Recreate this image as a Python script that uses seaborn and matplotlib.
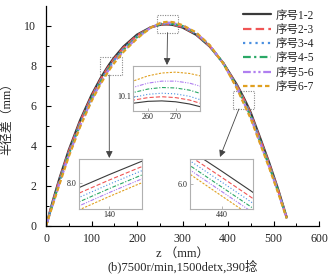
import numpy as np
import pandas as pd
import matplotlib
matplotlib.use("Agg")
import matplotlib.pyplot as plt
import seaborn as sns
from matplotlib.patches import Rectangle

# ---------------- data ----------------
z = [0, 15, 30, 50, 75, 100, 120, 135, 140, 145, 150, 170, 200, 230, 250, 255, 260, 265,
     270, 275, 280, 300, 330, 360, 390, 420, 435, 440, 445, 450, 470, 490, 510, 529]

s12 = [0.000, 1.261, 2.414, 3.796, 5.290, 6.547, 7.395, 7.946, 8.114, 8.274, 8.427, 8.967,
       9.568, 9.935, 10.053, 10.067, 10.075, 10.077, 10.073, 10.063, 10.047, 9.924, 9.560,
       8.970, 8.140, 7.049, 6.399, 6.164, 5.922, 5.671, 4.450, 3.200, 1.850, 0.430]
s23 = [0.000, 1.211, 2.339, 3.714, 5.208, 6.470, 7.321, 7.874, 8.043, 8.204, 8.357, 8.900,
       9.518, 9.930, 10.062, 10.081, 10.092, 10.096, 10.092, 10.081, 10.062, 9.954, 9.590,
       8.988, 8.133, 7.002, 6.324, 6.087, 5.845, 5.594, 4.375, 3.135, 1.805, 0.418]
s34 = [0.000, 1.173, 2.282, 3.651, 5.145, 6.411, 7.265, 7.818, 7.989, 8.151, 8.304, 8.848,
       9.480, 9.926, 10.074, 10.094, 10.107, 10.112, 10.109, 10.098, 10.078, 9.977, 9.613,
       9.001, 8.127, 6.965, 6.267, 6.028, 5.786, 5.535, 4.318, 3.086, 1.771, 0.408]
s45 = [0.000, 1.133, 2.222, 3.585, 5.079, 6.349, 7.206, 7.760, 7.932, 8.095, 8.248, 8.794,
       9.440, 9.922, 10.092, 10.116, 10.131, 10.138, 10.136, 10.126, 10.107, 10.001, 9.637,
       9.015, 8.121, 6.927, 6.207, 5.966, 5.724, 5.473, 4.258, 3.034, 1.735, 0.398]
s56 = [0.000, 1.097, 2.168, 3.525, 5.019, 6.293, 7.153, 7.708, 7.880, 8.044, 8.197, 8.746,
       9.404, 9.919, 10.113, 10.140, 10.158, 10.167, 10.167, 10.158, 10.140, 10.022, 9.658,
       9.027, 8.115, 6.893, 6.153, 5.910, 5.668, 5.417, 4.204, 2.987, 1.702, 0.389]
s67 = [0.000, 1.061, 2.114, 3.466, 4.960, 6.237, 7.100, 7.656, 7.829, 7.994, 8.147, 8.697,
       9.368, 9.915, 10.138, 10.169, 10.191, 10.204, 10.208, 10.202, 10.188, 10.044, 9.680,
       9.040, 8.110, 6.859, 6.099, 5.854, 5.612, 5.361, 4.150, 2.940, 1.670, 0.380]

names = ["序号1-2", "序号2-3", "序号3-4", "序号4-5", "序号5-6", "序号6-7"]
series = [s12, s23, s34, s45, s56, s67]
colors = ["#3a3a3a", "#f05555", "#4a8fe0", "#2aa866", "#b07ff0", "#e0a020"]
dash_list = ["", (3.8, 1.9), (1, 1.8), (3.5, 1.5, 1, 1.5), (3.5, 1.2, 1, 1.2, 1, 1.2), (2, 1.3)]

xticks_main = [0, 100, 200, 300, 400, 500, 600]
yticks_main = [0, 2, 4, 6, 8, 10]
xlabel_text = "z （mm）\n(b)7500r/min,1500detx,390捻"
ylabel_text = "半径差（mm）"

df = pd.DataFrame({
    "z": np.tile(z, len(series)),
    "val": np.concatenate([np.asarray(s, float) for s in series]),
    "series": np.repeat(names, len(z)),
})
palette = dict(zip(names, colors))
dashes = dict(zip(names, dash_list))

# ---------------- style ----------------
sns.set_style("ticks")
plt.rcParams["font.family"] = ["Liberation Serif", "Noto Sans CJK SC"]
plt.rcParams["axes.unicode_minus"] = False

W, H = 335, 279
fig = plt.figure(figsize=(W / 100, H / 100), dpi=100)
ax = fig.add_axes([46 / W, 53 / H, 273 / W, 220 / H])

sns.lineplot(data=df, x="z", y="val", hue="series", style="series", hue_order=names,
             style_order=names, palette=palette, dashes=dashes, linewidth=1.6,
             estimator=None, legend=False, ax=ax)

ax.set_xlim(0, 600)
ax.set_ylim(0, 11)
ax.set_xticks(xticks_main)
ax.set_yticks(yticks_main)
ax.set_xticks(np.arange(50, 600, 100), minor=True)
ax.set_yticks(np.arange(1, 11, 2), minor=True)
for sp in ["top", "right"]:
    ax.spines[sp].set_visible(False)
for sp in ["left", "bottom"]:
    ax.spines[sp].set_linewidth(0.9)
    ax.spines[sp].set_color("black")
ax.tick_params(which="major", direction="in", length=3.5, width=0.8, labelsize=8.6, color="black")
ax.tick_params(which="minor", direction="in", length=2, width=0.7, color="black")
ax.tick_params(axis="y", which="major", pad=7)
ax.tick_params(axis="x", which="major", pad=5)
ax.set_xlabel(xlabel_text, fontsize=9, labelpad=2, linespacing=1.0)
ax.set_ylabel(ylabel_text, fontsize=8.6, labelpad=8)

handles = ax.lines[:len(names)]
ax.legend(handles, names, loc="upper right", bbox_to_anchor=(1.0, 1.005), frameon=False,
          fontsize=8.3, handlelength=2.4, handletextpad=0.45, labelspacing=0.2,
          borderaxespad=0.0)

# dotted boxes on main axes
boxes = [(243, 9.67, 48, 0.88), (119, 7.55, 47, 0.89), (410, 5.85, 48, 0.92)]
for bx, by, bw, bh in boxes:
    ax.add_patch(Rectangle((bx, by), bw, bh, fill=False, linestyle=(0, (1, 1.2)),
                           edgecolor="#888888", linewidth=0.8))

# arrows from boxes to insets
arrows = [((267, 9.67), (167 / W, (H - 65) / H)),
          ((139, 7.55), (109.3 / W, (H - 158) / H)),
          ((424, 5.85), (220 / W, (H - 157) / H))]
for (sx, sy), (fx, fy) in arrows:
    ax.annotate("", xy=(fx, fy), xycoords="figure fraction", xytext=(sx, sy),
                textcoords="data",
                arrowprops=dict(arrowstyle="-|>,head_length=0.4,head_width=0.2",
                                color="#444444", lw=0.6, shrinkA=0, shrinkB=0),
                annotation_clip=False)

# ---------------- insets ----------------
insets = [
    dict(rect=[133 / W, (H - 111) / H, 67 / W, 45 / H], xlim=(254.6, 278.8),
         ylim=(10.031, 10.236), xt=[260, 270], yt=[10.1]),
    dict(rect=[79 / W, (H - 209) / H, 63 / W, 50 / H], xlim=(135.0, 145.5),
         ylim=(7.668, 8.318), xt=[140], yt=[8.0]),
    dict(rect=[190 / W, (H - 209) / H, 63 / W, 50.5 / H], xlim=(434.5, 445.5),
         ylim=(5.69, 6.32), xt=[440], yt=[6.0]),
]
for spec in insets:
    ia = fig.add_axes(spec["rect"])
    ia.set_facecolor("white")
    sns.lineplot(data=df, x="z", y="val", hue="series", style="series", hue_order=names,
                 style_order=names, palette=palette, dashes=dashes, linewidth=0.8,
                 estimator=None, legend=False, ax=ia)
    ia.set_xlim(*spec["xlim"])
    ia.set_ylim(*spec["ylim"])
    ia.set_xticks(spec["xt"])
    ia.set_yticks(spec["yt"])
    ia.set_xticklabels([str(v) for v in spec["xt"]])
    ia.set_yticklabels(["%.1f" % v for v in spec["yt"]])
    ia.set_xlabel("")
    ia.set_ylabel("")
    ia.tick_params(direction="in", length=2, width=0.5, color="#999999", labelsize=5.8, pad=1.5)
    for sp in ia.spines.values():
        sp.set_color("#b0b0b0")
        sp.set_linewidth(0.8)

fig.savefig("out.png", dpi=100)
